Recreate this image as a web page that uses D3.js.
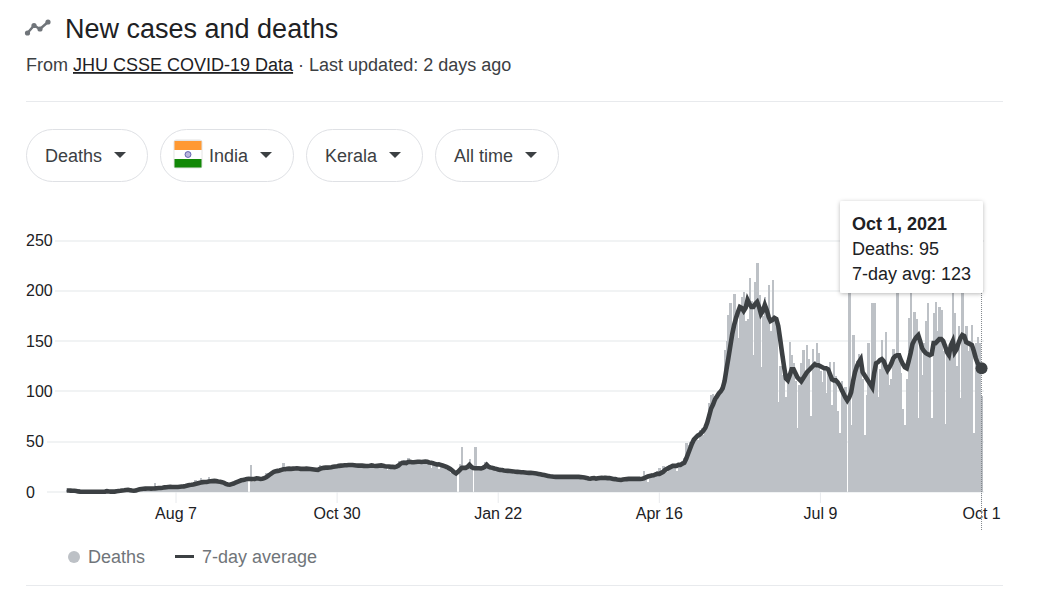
<!DOCTYPE html>
<html>
<head>
<meta charset="utf-8">
<title>New cases and deaths</title>
<script src="https://cdnjs.cloudflare.com/ajax/libs/d3/7.8.5/d3.min.js"></script>
<style>
  html, body { margin: 0; padding: 0; background: #fff; }
  svg { display: block; font-family: "Liberation Sans", Arial, sans-serif; }
</style>
</head>
<body>
<svg id="chart" width="1055" height="589"></svg>
<script>
// daily deaths, Jun 11 2020 -> Oct 1 2021
const deaths = [
  2,1,2,1,1,0,1,0,0,1, 0,0,1,0,0,0,1,0,0,0, 1,2,0,0,1,0,2,1,2,2,
  2,3,2,1,1,1,2,3,4,3, 4,3,5,3,3,4,9,4,4,4, 5,6,4,5,6,5,6,
  // Aug 7
  5,4,7,6,5,7,9,8,7,8, 12,8,9,14,9,10,9,15,11,10, 12,10,9,11,10,8,9,7,6,9,
  9,10,11,12,13,11,14,14,0,27, 10,13,14,14,12,14,16,19,18,19,
  21,22,22,21,24,24,29,23,24,25, 24,23,25,24,24,22,24,25,23,23,
  23,22,24,22,21,27,24,26,25,24, 24,26,23,27,
  // Oct 30
  26,26,27,27,25,27,28,27,26,27, 26,27,25,27,26,25,27,26,28,26,
  24,26,27,27,25,26,22,26,24,23, 25,24,31,30,29,32,28,34,30,28,
  30,31,28,30,31,29,32,30,27,24, 28,26,27,23,28,24,25,22,24,19,
  22,18,21,0,28,45,26,24,25,33, 24,0,45,23,24,22,26,30,25,24, 22,25,23,22,
  // Jan 22
  21,24,22,20,23,19,22,21,18,22, 19,20,21,18,20,21,17,19,20,18,
  19,17,18,16,18,15,17,16,15,16, 14,15,15,16,14,15,16,14,15,16,
  14,15,16,13,15,14,13,12,14,15, 12,13,15,14,16,13,15,12,14,13,
  11,14,12,13,11,13,12,14,13,12, 14,13,12,13,14,12,21,17,10,18, 19,17,20,21,
  // Apr 16
  24,17,26,24,20,27,26,24,27,21, 28,25,31,34,49,47,50,48,52,57,
  52,62,64,57,63,70,88,96,97,95, 91,96,104,111,141,150,176,188,165,197,
  175,153,180,194,199,170,172,213,190,136, 209,228,196,124,175,194,180,206,160,211,
  170,174,89,125,116,135,94,118,149,136, 128,110,64,106,128,141,120,146,132,76,
  142,130,148,138,
  // Jul 9
  120,109,125,98,118,129,86,129,115,81, 59,110,95,104,0,210,67,156,118,130,
  137,133,112,57,96,148,105,188,188,130, 94,122,151,132,159,118,106,112,142,135,
  215,130,118,83,67,112,173,215,150,179, 172,74,150,116,148,170,188,135,74,178,
  189,160,184,181,140,68,138,132,150,205, 178,125,165,93,205,150,165,140,150,166,
  59,148,154,148,95
];

// 7-day average, same days
const avg7 = [
  1.5,1.5,1.4,1.3,1.2,1,0.6,0.4,0.3,0.3, 0.3,0.3,0.3,0.3,0.3,0.3,0.3,0.3,0.3,0.3,
  0.4,0.8,0.5,0.4,0.4,0.4,0.8,1,1.2,1.5, 1.7,2,2.2,1.8,1.4,1.2,1.4,2.2,2.8,3,
  3.2,3.4,3.5,3.5,3.4,3.5,3.6,3.8,4,4, 4.2,4.6,4.8,5,5.2,5,5,
  // Aug 7
  5,5,5.2,5.4,5.6,6,6.5,7,7.2,7.5, 8,8.4,9,9.4,9.8,10,10,10.4,10.6,10.8,
  11,10.8,10.4,10.2,9.8,9.2,8,7.4,7.2,7.8, 8.4,9.2,10,10.8,11.6,12,12.4,13,13.2,13,
  12.8,13,13.6,13.4,13,13.2,13.8,14.6,16,17.4, 18.8,20,20.6,21,21.4,22,22.6,22.6,23,23.2,
  23,23.2,23.4,23.6,23.4,23,23,23,23.2,23, 22.8,22.6,22.4,22.2,22,23,23.6,24,24.2,24.2,
  24.4,24.6,25,25.4,
  // Oct 30
  25.6,26,26.2,26.4,26.6,26.6,26.8,26.8,26.8,26.6, 26.4,26.2,26.4,26.2,26,25.8,25.8,26,26.4,26,
  25.8,26,26.2,26.4,26,25.6,25.4,25.4,25,25, 24.8,25.2,26.2,28,29,29,28.8,29.8,30,29.6,
  29.6,29.8,30,30,29.8,30,30.2,30,29.4,29, 28.6,28,27.4,27.6,27,26.4,25.8,25,24,23,
  21.4,19.6,18.4,20,22,24,24,24,25,27, 25,23.8,23.6,23.6,23.6,23.4,24,25,27,25,
  24.4,24,23.4,23,
  // Jan 22
  22.4,22,21.8,21.4,21.2,21,20.8,20.6,20.4,20.2, 20,19.8,19.6,19.6,19.4,19.2,19,19,18.8,18.6,
  18.4,18,17.6,17.2,16.8,16.4,16,15.6,15.4,15.2, 15,15,15,15,15,15,15,15,15,15,
  15,15,15,14.8,14.6,14.4,14,13.4,13.2,13.6, 13.8,13.2,13.6,14,14.2,14,14,13.8,13.8,13.4,
  13,12.8,12.4,12.2,12,12.4,12.6,12.8,13,13, 13,13,13,13,13,13.2,13.6,14.6,15.4,16,
  16.4,16.6,17.4,18,
  // Apr 16
  18,19,20,22,23,24,25,26,26,26, 27,27,28,29,33,38,43,48,52,54,
  56,57,59,61,64,69,76,83,87,92, 95,98,100,103,110,122,133,145,157,166,
  173,179,184,183,180,183,191,187,184,184, 187,189,184,177,180,186,181,174,170,171,
  173,172,165,152,138,125,113,111,116,122, 122,118,114,112,110,113,116,119,121,123,
  125,127,126,126,
  // Jul 9
  125,124,123,123,122,117,112,111,111,109, 106,102,98,94,91,94,99,110,119,125,
  129,132,119,116,113,110,107,104,118,128, 129,131,132,130,125,121,124,128,133,135,
  136,136,131,127,124,123,130,138,147,151, 154,156,150,143,140,138,137,136,137,148,
  148,150,152,152,150,145,139,136,146,150, 139,142,148,153,156,155,149,148,147,146,
  140,133,128,125,123
];

const yTicks = [0, 50, 100, 150, 200, 250];
const xTickDates = ["2020-08-07", "2020-10-30", "2021-01-22", "2021-04-16", "2021-07-09", "2021-10-01"];
const filters = ["Deaths", "India", "Kerala", "All time"];
const tooltipLines = ["Oct 1, 2021", "Deaths: 95", "7-day avg: 123"];
const legendLabels = ["Deaths", "7-day average"];

const parseDay = d3.timeParse("%Y-%m-%d");
const days = d3.timeDay.range(new Date(2020, 5, 11), new Date(2021, 9, 2));

const barColor = "#bdc1c6", lineColor = "#3c4043";

const svg = d3.select("#chart");

// header
const icon = svg.append("g").attr("fill", "#70757a").attr("stroke", "#70757a");
const iconPts = [[27.5, 33], [34, 25.5], [40, 29], [48, 22]];
icon.append("path").attr("fill", "none").attr("stroke-width", 2.5).attr("d", d3.line()(iconPts));
icon.selectAll("circle").data(iconPts).enter().append("circle")
    .attr("cx", d => d[0]).attr("cy", d => d[1]).attr("r", 2.6).attr("stroke", "none");

svg.append("text").attr("x", 65).attr("y", 38)
    .attr("font-size", 27).attr("fill", "#202124").text("New cases and deaths");

const sub = svg.append("text").attr("x", 26).attr("y", 71)
    .attr("font-size", 18).attr("fill", "#3c4043");
sub.append("tspan").text("From ");
sub.append("tspan").attr("fill", "#202124").attr("text-decoration", "underline").text("JHU CSSE COVID-19 Data");
sub.append("tspan").text(" · Last updated: 2 days ago");

svg.append("line").attr("x1", 26).attr("x2", 1003).attr("y1", 101.5).attr("y2", 101.5).attr("stroke", "#e8eaed");
svg.append("line").attr("x1", 26).attr("x2", 1003).attr("y1", 585.5).attr("y2", 585.5).attr("stroke", "#e8eaed");

// filter chips
const chipBox = [[26, 121], [160, 133], [306, 116], [435, 123]];
const chipText = [45, 209, 325, 454];
const chips = svg.selectAll("g.chip").data(filters).enter().append("g").attr("class", "chip");
chips.append("rect")
    .attr("x", (d, i) => chipBox[i][0] + 0.5).attr("y", 129.5)
    .attr("width", (d, i) => chipBox[i][1]).attr("height", 52).attr("rx", 26)
    .attr("fill", "#fff").attr("stroke", "#dfe1e5");
chips.append("text")
    .attr("x", (d, i) => chipText[i]).attr("y", 162)
    .attr("font-size", 18).attr("fill", "#3c4043").text(d => d);
chips.append("path")
    .attr("transform", (d, i) => `translate(${chipBox[i][0] + chipBox[i][1] - 27},155)`)
    .attr("d", "M-6,-3L6,-3L0,3Z").attr("fill", "#3c4043");

// flag
const flag = svg.append("g");
flag.append("rect").attr("x", 173.5).attr("y", 139.5).attr("width", 29).attr("height", 29).attr("rx", 3).attr("fill", "#e4e4e4");
flag.append("rect").attr("x", 174.5).attr("y", 141).attr("width", 27).attr("height", 9).attr("fill", "#ff9933");
flag.append("rect").attr("x", 174.5).attr("y", 150).attr("width", 27).attr("height", 9).attr("fill", "#ffffff");
flag.append("rect").attr("x", 174.5).attr("y", 159).attr("width", 27).attr("height", 8.5).attr("fill", "#128807");
flag.append("circle").attr("cx", 188).attr("cy", 154.5).attr("r", 3).attr("fill", "#b9b7dc").attr("stroke", "#000080").attr("stroke-width", 0.5);

// scales
const x = d3.scaleBand().domain(days).range([65.74, 982.5]);
const y = d3.scaleLinear().domain([0, 250]).range([492, 240.5]);
const cx = d => x(d) + x.bandwidth() / 2;

// grid and axes
const yAxis = svg.append("g")
    .attr("transform", "translate(47,0)")
    .call(d3.axisLeft(y).tickValues(yTicks).tickSize(0).tickFormat(d3.format("d")));
yAxis.select(".domain").remove();
yAxis.selectAll("text").attr("x", -21).attr("text-anchor", "start")
    .attr("font-family", "Liberation Sans").attr("font-size", 16).attr("fill", "#202124");

// grid starts right after each label, so it depends on the label width
svg.append("g").selectAll("line").data(yTicks).enter().append("line")
    .attr("x1", d => d < 100 ? 47 : 55).attr("x2", 984)
    .attr("y1", d => Math.round(y(d))).attr("y2", d => Math.round(y(d)))
    .attr("stroke", "#f1f3f4").attr("stroke-width", 2);

const xAxis = svg.append("g")
    .attr("transform", "translate(0,492)")
    .call(d3.axisBottom(x).tickValues(xTickDates.map(parseDay)).tickSize(11).tickPadding(5).tickFormat(d3.timeFormat("%b %-d")));
xAxis.select(".domain").remove();
xAxis.selectAll("line").attr("stroke", "#e8eaed");
xAxis.selectAll("text").attr("font-family", "Liberation Sans").attr("font-size", 16).attr("fill", "#202124");

// bars
svg.append("g").attr("shape-rendering", "crispEdges").selectAll("rect").data(days).enter().append("rect")
    .attr("x", d => x(d))
    .attr("y", (d, i) => y(deaths[i]))
    .attr("width", x.bandwidth() + 0.5)
    .attr("height", (d, i) => y(0) - y(deaths[i]))
    .attr("fill", barColor);

// hover guide for the last day
const lastDay = days[days.length - 1];
svg.append("line").attr("x1", cx(lastDay)).attr("x2", cx(lastDay)).attr("y1", 293).attr("y2", 531)
    .attr("stroke", "#80868b").attr("stroke-dasharray", "1,1");

// 7-day line
const line = d3.line().x(d => cx(d)).y((d, i) => y(avg7[i]));
svg.append("path").datum(days).attr("d", line)
    .attr("fill", "none").attr("stroke", lineColor).attr("stroke-width", 4.6)
    .attr("stroke-linejoin", "miter").attr("stroke-miterlimit", 4);
svg.append("circle").attr("cx", cx(lastDay)).attr("cy", y(avg7[avg7.length - 1])).attr("r", 6).attr("fill", lineColor);

// tooltip
const defs = svg.append("defs");
const shadow = defs.append("filter").attr("id", "shadow").attr("x", "-10%").attr("y", "-10%").attr("width", "120%").attr("height", "125%");
shadow.append("feDropShadow").attr("dx", 0).attr("dy", 1).attr("stdDeviation", 2).attr("flood-color", "#000").attr("flood-opacity", 0.28);
const tip = svg.append("g");
tip.append("rect").attr("x", 840).attr("y", 201).attr("width", 143).attr("height", 92).attr("rx", 2)
    .attr("fill", "#fff").attr("filter", "url(#shadow)");
tip.selectAll("text").data(tooltipLines).enter().append("text")
    .attr("x", 852).attr("y", (d, i) => [230, 255, 279.5][i])
    .attr("font-size", 18).attr("font-weight", (d, i) => i === 0 ? "bold" : "normal")
    .attr("fill", "#202124").text(d => d);

// legend
const legend = svg.append("g").attr("font-size", 18).attr("fill", "#70757a");
legend.append("circle").attr("cx", 74).attr("cy", 557).attr("r", 6).attr("fill", barColor);
legend.append("text").attr("x", 88).attr("y", 563).text(legendLabels[0]);
legend.append("line").attr("x1", 175).attr("x2", 194).attr("y1", 556.5).attr("y2", 556.5)
    .attr("stroke", lineColor).attr("stroke-width", 3);
legend.append("text").attr("x", 202).attr("y", 563).text(legendLabels[1]);
</script>
</body>
</html>
